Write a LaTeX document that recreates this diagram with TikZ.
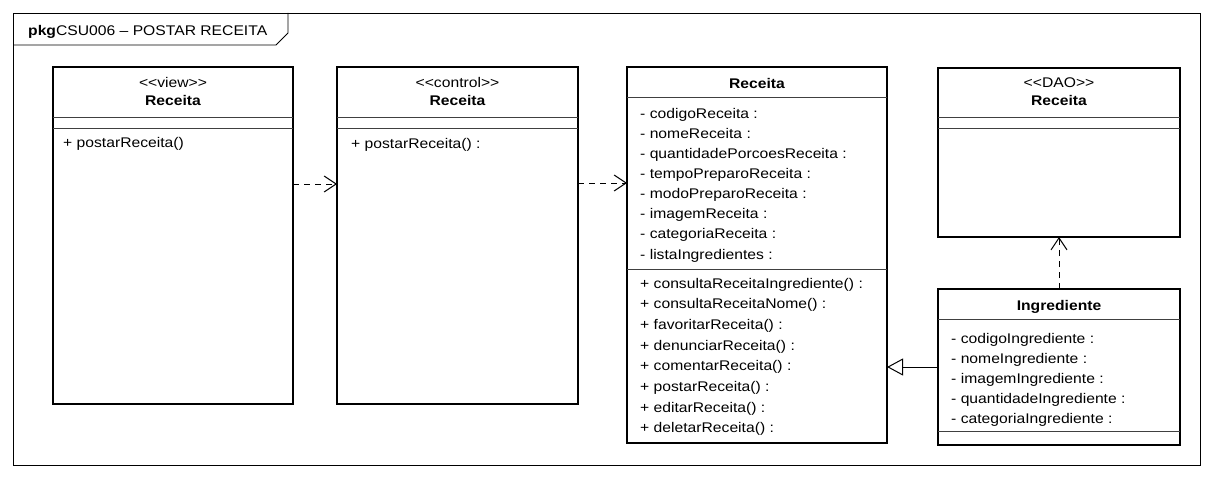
\documentclass[tikz,border=0pt]{standalone}
\usepackage{fontspec}
\setmainfont{Liberation Sans}[FakeStretch=1.12]
\usetikzlibrary{arrows.meta}
\begin{document}
\begin{tikzpicture}[x=1pt,y=-1pt,
  cls/.style={draw, line width=2.6pt, rectangle, inner sep=0pt, outer sep=0pt, anchor=north west},
  sep/.style={line width=0.8pt, black!75},
  txt/.style={anchor=base west, inner sep=0pt, font=\fontsize{14}{16}\selectfont},
  ttl/.style={anchor=base, inner sep=0pt, font=\fontsize{14}{16}\selectfont\bfseries},
  ster/.style={anchor=base, inner sep=0pt, font=\fontsize{14}{16}\selectfont},
  dep/.style={line width=0.9pt, dash pattern=on 6pt off 5pt, -{Straight Barb[length=12pt,width=16pt,line width=1pt]}},
  gen/.style={line width=0.9pt, -{Triangle[open,length=16pt,width=17pt,line width=1pt]}}]
\useasboundingbox (0,0) rectangle (1214,478);
\fill[white] (0,0) rectangle (1214,478);
% package frame
\draw[line width=0.9pt] (13,13) rectangle (1200,465);
\draw[line width=0.9pt] (13,45) -- (276,45) -- (288,33) -- (288,13);
\node[txt] (pkg) at (28,36) {\textbf{pkg}CSU006 – POSTAR RECEITA};
% view
\node[cls, minimum width=240pt, minimum height=337pt] (v) at (53,67) {};
\draw[sep] (v.west |- 0,117) -- (v.east |- 0,117);
\draw[sep] (v.west |- 0,128) -- (v.east |- 0,128);
\node[ster] (vs) at (173,88) {{<}{<}view{>}{>}};
\node[ttl] (vt) at (173,106) {Receita};
\node[txt] (vm) at (63,148) {+ postarReceita()};
% control
\node[cls, minimum width=241pt, minimum height=337pt] (c) at (337,67) {};
\draw[sep] (c.west |- 0,117) -- (c.east |- 0,117);
\draw[sep] (c.west |- 0,128) -- (c.east |- 0,128);
\node[ster] (cs) at (457.5,88) {{<}{<}control{>}{>}};
\node[ttl] (ct) at (457.5,106) {Receita};
\node[txt] (cm) at (351,149) {+ postarReceita() :};
% entity
\node[cls, minimum width=260pt, minimum height=376pt] (e) at (627,67) {};
\draw[sep] (e.west |- 0,97) -- (e.east |- 0,97);
\draw[sep] (e.west |- 0,269) -- (e.east |- 0,269);
\node[ttl] (et) at (757,89) {Receita};
\node[txt] (ea1) at (640,119) {- codigoReceita :};
\node[txt] (ea2) at (640,139) {- nomeReceita :};
\node[txt] (ea3) at (640,159) {- quantidadePorcoesReceita :};
\node[txt] (ea4) at (640,179) {- tempoPreparoReceita :};
\node[txt] (ea5) at (640,199) {- modoPreparoReceita :};
\node[txt] (ea6) at (640,219) {- imagemReceita :};
\node[txt] (ea7) at (640,239) {- categoriaReceita :};
\node[txt] (ea8) at (640,259) {- listaIngredientes :};
\node[txt] (em1) at (640,288) {+ consultaReceitaIngrediente() :};
\node[txt] (em2) at (640,308.7) {+ consultaReceitaNome() :};
\node[txt] (em3) at (640,329.4) {+ favoritarReceita() :};
\node[txt] (em4) at (640,350.1) {+ denunciarReceita() :};
\node[txt] (em5) at (640,370.8) {+ comentarReceita() :};
\node[txt] (em6) at (640,391.5) {+ postarReceita() :};
\node[txt] (em7) at (640,412.2) {+ editarReceita() :};
\node[txt] (em8) at (640,432.9) {+ deletarReceita() :};
% DAO
\node[cls, minimum width=242pt, minimum height=169pt] (dao) at (938,68) {};
\draw[sep] (dao.west |- 0,117) -- (dao.east |- 0,117);
\draw[sep] (dao.west |- 0,128) -- (dao.east |- 0,128);
\node[ster] (ds) at (1059,88) {{<}{<}DAO{>}{>}};
\node[ttl] (dt) at (1059,106) {Receita};
% Ingrediente
\node[cls, minimum width=242pt, minimum height=156pt] (ing) at (938,289) {};
\draw[sep] (ing.west |- 0,319) -- (ing.east |- 0,319);
\draw[sep] (ing.west |- 0,431) -- (ing.east |- 0,431);
\node[ttl] (it) at (1059,310) {Ingrediente};
\node[txt] (ia1) at (951,343) {- codigoIngrediente :};
\node[txt] (ia2) at (951,363) {- nomeIngrediente :};
\node[txt] (ia3) at (951,383) {- imagemIngrediente :};
\node[txt] (ia4) at (951,403) {- quantidadeIngrediente :};
\node[txt] (ia5) at (951,423) {- categoriaIngrediente :};
% connectors
\draw[dep] ([yshift=51.5pt]v.east) -- ([yshift=51.5pt]c.west);
\draw[dep] ([yshift=52.5pt]c.east) -- ([yshift=52.5pt]c.east -| e.west);
\draw[gen] (ing.west) -- (ing.west -| e.east);
\draw[dep] (ing.north) -- (dao.south);
\end{tikzpicture}
\end{document}
